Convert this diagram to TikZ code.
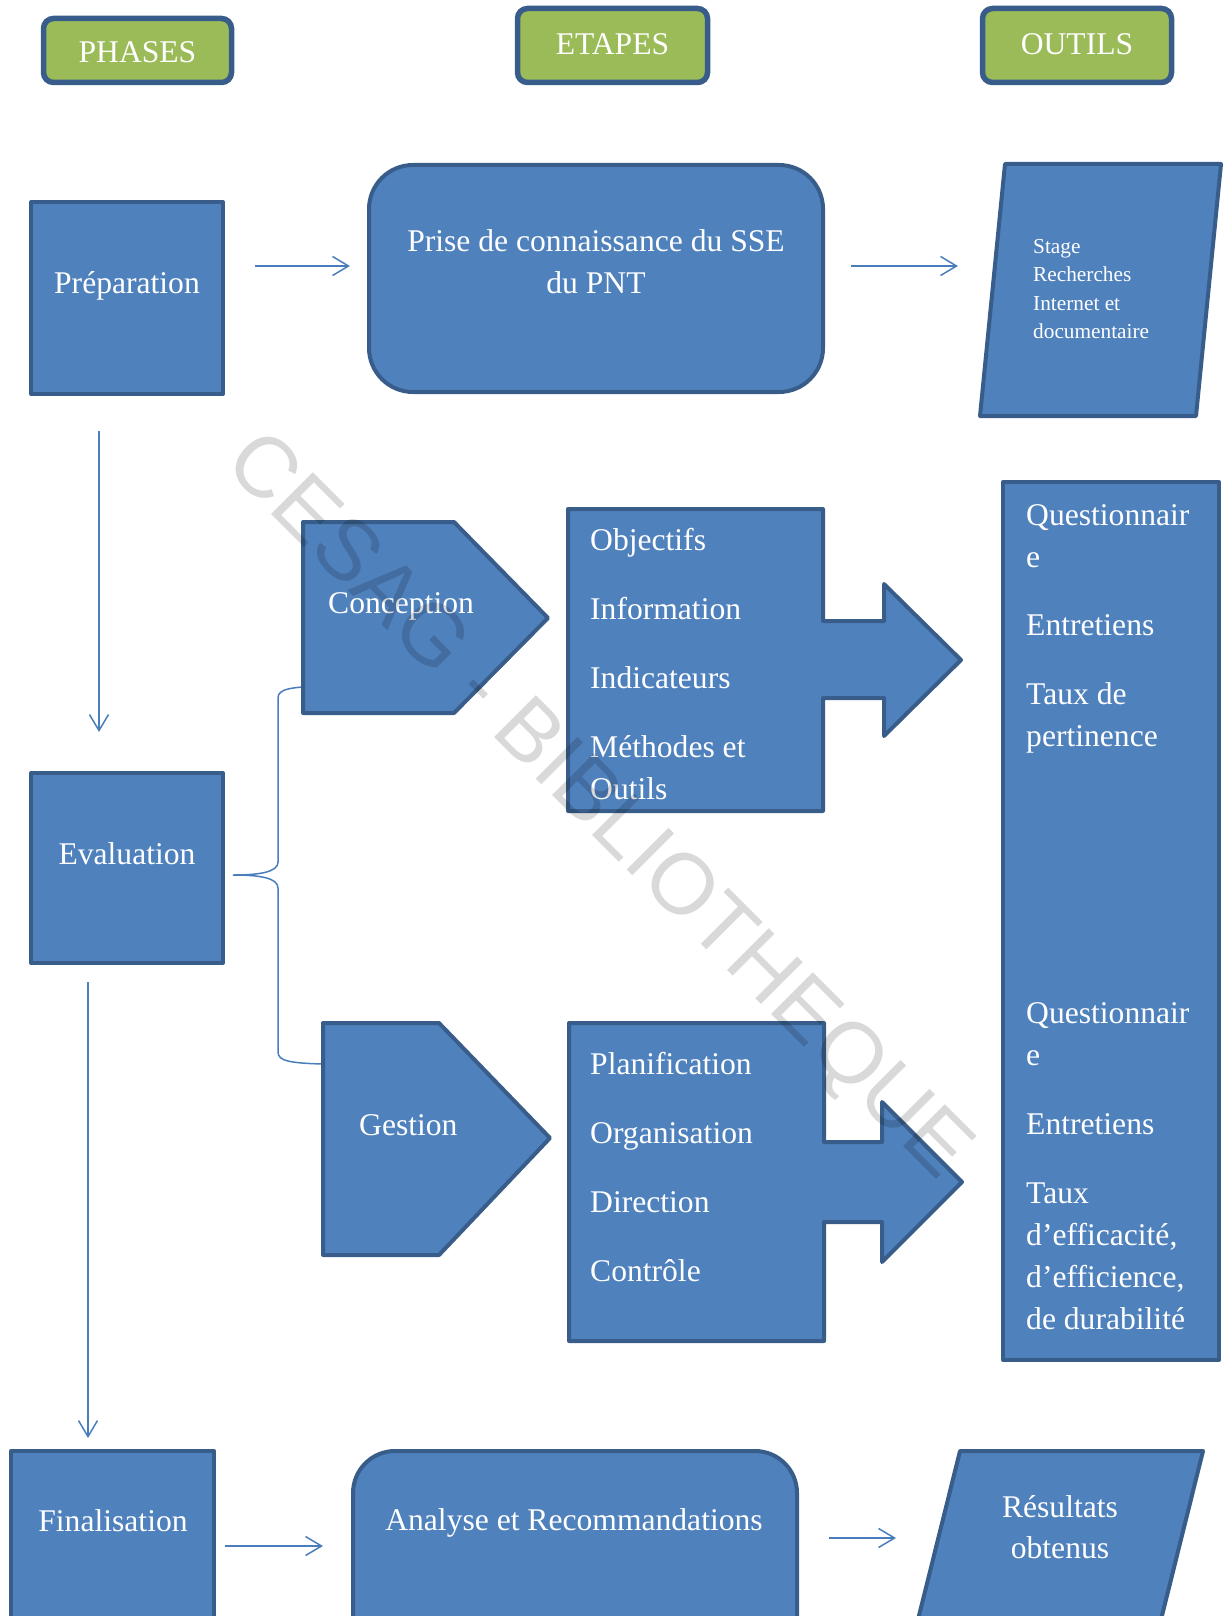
\documentclass[tikz,border=0pt]{standalone}
\usepackage{fontspec}
\setmainfont{Liberation Serif}
\newfontfamily\wmfont{Liberation Sans}
\usetikzlibrary{arrows.meta}
\definecolor{bfill}{HTML}{4F81BD}
\definecolor{bline}{HTML}{385D8A}
\definecolor{gfill}{HTML}{9BBB59}
\definecolor{conncol}{HTML}{4A7EBB}
\begin{document}
\begin{tikzpicture}[x=1pt,y=-1pt,
  shapebox/.style={draw=bline, fill=bfill, line width=4pt, line join=round},
  header/.style={draw=bline, fill=gfill, line width=5.5pt, rounded corners=10pt},
  conn/.style={draw=conncol, line width=1.5pt, -{Straight Barb[length=16pt,width=19pt]}},
  brace/.style={draw=conncol, line width=1.5pt},
  txt/.style={text=white, font=\fontsize{31.6pt}{42pt}\selectfont, inner sep=0pt, anchor=base},
  ltxt/.style={txt, anchor=base west},
  stxt/.style={text=white, font=\fontsize{21.3pt}{28pt}\selectfont, inner sep=0pt, anchor=base west},
  wm/.style={text=black, opacity=0.15, font=\wmfont\fontsize{86pt}{86pt}\selectfont, inner sep=0pt, anchor=base, rotate=-45}
]
\useasboundingbox (0,0) rectangle (1223,1616);
\clip (0,0) rectangle (1223,1616);

% headers
\draw[header] (43.5,18.5) rectangle (231.5,82.5);
\draw[header] (517.5,8.5) rectangle (707.5,82.5);
\draw[header] (982.5,8.5) rectangle (1171.5,82.5);
\node[txt] (tphases) at (137.5,63) {PHASES};
\node[txt] (tetapes) at (612.5,54.5) {ETAPES};
\node[txt] (toutils) at (1077,54.5) {OUTILS};

% Preparation row
\draw[shapebox] (31,202) rectangle (223,394);
\node[txt] (tprep) at (127,293) {Préparation};
\draw[shapebox, rounded corners=44pt] (369,165) rectangle (823,392);
\node[txt] (tprise1) at (596,251) {Prise de connaissance du SSE};
\node[txt] (tprise2) at (596,293) {du PNT};
\draw[shapebox] (1005,164) -- (1221,164) -- (1196,416) -- (980,416) -- cycle;
\node[stxt] (tstage) at (1033,253) {Stage};
\node[stxt] (trech) at (1033,281.5) {Recherches};
\node[stxt] (tint) at (1033,310) {Internet et};
\node[stxt] (tdoc) at (1033,338) {documentaire};

\coordinate (a1s) at (255,266); \coordinate (a1e) at (350,266);
\coordinate (a2s) at (851,266); \coordinate (a2e) at (958,266);
\draw[conn] (a1s) -- (a1e);
\draw[conn] (a2s) -- (a2e);

% vertical arrows
\coordinate (v1s) at (99,431); \coordinate (v1e) at (99,732);
\draw[conn] (v1s) -- (v1e);
\coordinate (v2s) at (88,982); \coordinate (v2e) at (88,1438);
\draw[conn] (v2s) -- (v2e);

% Evaluation
\draw[shapebox] (31,773) rectangle (223,963);
\node[txt] (teval) at (127,864) {Evaluation};

% brace
\coordinate (bt) at (323,686);
\coordinate (btip) at (233,875);
\coordinate (bb) at (322,1064);
\draw[brace] (bt) .. controls (290,687) and (278,689) .. (278,698)
  -- (278,862) .. controls (278,872) and (260,875) .. (btip)
  .. controls (260,875) and (278,878) .. (278,888)
  -- (278,1052) .. controls (278,1061) and (290,1063) .. (bb);

% Conception
\draw[shapebox] (303,522) -- (454,522) -- (548,618) -- (454,713) -- (303,713) -- cycle;
\node[ltxt] (tconc) at (328,613) {Conception};
\draw[shapebox] (568,509) -- (823,509) -- (823,621) -- (884,621) -- (884,584) -- (961,660)
  -- (884,736) -- (884,698) -- (823,698) -- (823,811) -- (568,811) -- cycle;
\node[ltxt] (tobj) at (590,550) {Objectifs};
\node[ltxt] (tinfo) at (590,619) {Information};
\node[ltxt] (tind) at (590,688) {Indicateurs};
\node[ltxt] (tmeth) at (590,757) {Méthodes et};
\node[ltxt] (toutl) at (590,799) {Outils};

% Gestion
\draw[shapebox] (323,1023) -- (439,1023) -- (550,1138) -- (439,1255) -- (323,1255) -- cycle;
\node[ltxt] (tgest) at (359,1135) {Gestion};
\draw[shapebox] (569,1023) -- (824,1023) -- (824,1142) -- (882,1142) -- (882,1102) -- (962,1182)
  -- (882,1262) -- (882,1222) -- (824,1222) -- (824,1341) -- (569,1341) -- cycle;
\node[ltxt] (tplan) at (590,1074) {Planification};
\node[ltxt] (torg) at (590,1143) {Organisation};
\node[ltxt] (tdir) at (590,1212) {Direction};
\node[ltxt] (tctrl) at (590,1281) {Contrôle};

% tall tools box
\draw[shapebox] (1003,482) rectangle (1219,1360);
\node[ltxt] (tq1) at (1026,525) {Questionnair};
\node[ltxt] (tq1b) at (1026,567) {e};
\node[ltxt] (te1) at (1026,635) {Entretiens};
\node[ltxt] (ttx1) at (1026,704) {Taux de};
\node[ltxt] (tpert) at (1026,746) {pertinence};
\node[ltxt] (tq2) at (1026,1023) {Questionnair};
\node[ltxt] (tq2b) at (1026,1065) {e};
\node[ltxt] (te2) at (1026,1134) {Entretiens};
\node[ltxt] (ttx2) at (1026,1203) {Taux};
\node[ltxt] (teffa) at (1026,1245) {d’efficacité,};
\node[ltxt] (teffi) at (1026,1287) {d’efficience,};
\node[ltxt] (tdur) at (1026,1329) {de durabilité};

% Finalisation row
\draw[shapebox] (11,1451) rectangle (214,1700);
\node[txt] (tfin) at (113,1531) {Finalisation};
\draw[shapebox, rounded corners=42pt] (353,1451) rectangle (797,1700);
\node[txt] (tana) at (574,1530) {Analyse et Recommandations};
\draw[shapebox] (960,1451) -- (1203,1451) -- (1141,1700) -- (898,1700) -- cycle;
\node[txt] (tres1) at (1060,1517) {Résultats};
\node[txt] (tres2) at (1060,1558) {obtenus};
\coordinate (a3s) at (225,1546); \coordinate (a3e) at (323,1546);
\coordinate (a4s) at (829,1538); \coordinate (a4e) at (896,1538);
\draw[conn] (a3s) -- (a3e);
\draw[conn] (a4s) -- (a4e);

% watermark
\node[wm] (wmark) at (581,824) {CESAG - BIBLIOTHEQUE};
\end{tikzpicture}
\end{document}
